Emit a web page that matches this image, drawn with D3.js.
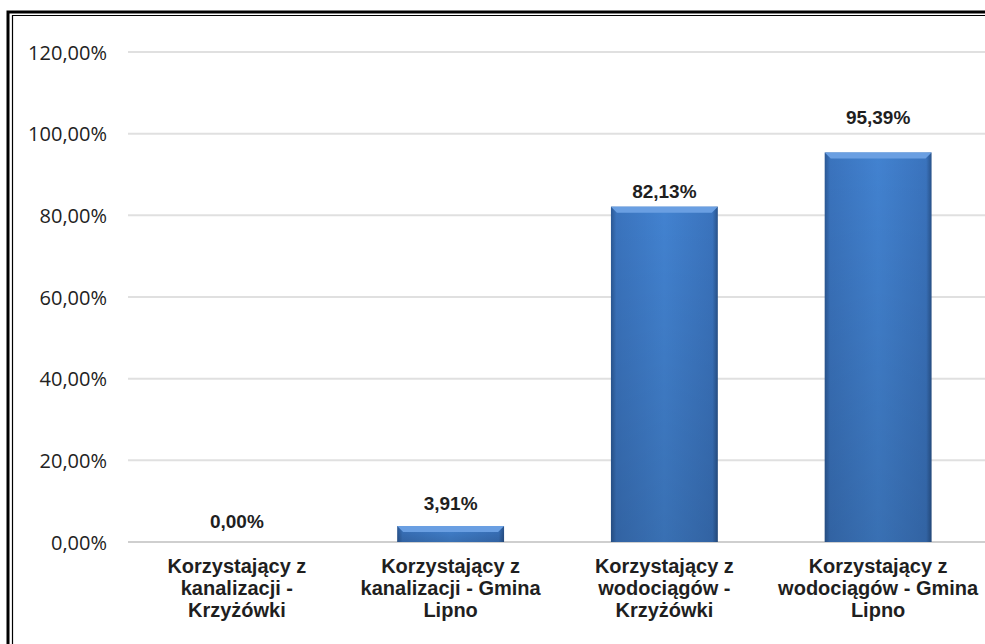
<!DOCTYPE html>
<html>
<head>
<meta charset="utf-8">
<script src="https://cdn.jsdelivr.net/npm/d3@7"></script>
<style>
  body { margin: 0; background: #fff; }
  svg { display: block; }
</style>
</head>
<body>
<div id="chart"></div>
<script>
// chart data
var categories = [
  ["Korzystający z", "kanalizacji -", "Krzyżówki"],
  ["Korzystający z", "kanalizacji - Gmina", "Lipno"],
  ["Korzystający z", "wodociągów -", "Krzyżówki"],
  ["Korzystający z", "wodociągów - Gmina", "Lipno"]
]
var values = [0.00, 3.91, 82.13, 95.39]
var yTicks = [0, 20, 40, 60, 80, 100, 120]

var W = 985, H = 644
var narrow = "'Liberation Sans Narrow', 'Arial Narrow', 'Liberation Sans', Arial, sans-serif"

var svg = d3.select("#chart").append("svg")
    .attr("width", W)
    .attr("height", H)

// double frame (cut off at right / bottom like the screenshot)
svg.append("path")
    .attr("d", "M8,660 L8,12 L1000,12")
    .attr("fill", "none").attr("stroke", "#000").attr("stroke-width", 3)
svg.append("path")
    .attr("d", "M12.5,660 L12.5,15.5 L1000,15.5")
    .attr("fill", "none").attr("stroke", "#000").attr("stroke-width", 1.2)

var defs = svg.append("defs")
var grad = defs.append("linearGradient").attr("id", "barGrad")
    .attr("x1", "0%").attr("x2", "100%").attr("y1", "0%").attr("y2", "0%")
grad.append("stop").attr("offset", "0%").attr("stop-color", "#2b5894")
grad.append("stop").attr("offset", "5%").attr("stop-color", "#3a73bd")
grad.append("stop").attr("offset", "50%").attr("stop-color", "#4282d0")
grad.append("stop").attr("offset", "95%").attr("stop-color", "#3a73bd")
grad.append("stop").attr("offset", "100%").attr("stop-color", "#28528a")

var vgrad = defs.append("linearGradient").attr("id", "barShade")
    .attr("x1", "0%").attr("x2", "0%").attr("y1", "0%").attr("y2", "100%")
vgrad.append("stop").attr("offset", "0%").attr("stop-color", "#000").attr("stop-opacity", 0)
vgrad.append("stop").attr("offset", "100%").attr("stop-color", "#000").attr("stop-opacity", 0.14)

var x = d3.scaleBand()
    .domain(d3.range(values.length))
    .range([130, 985])
    .paddingInner(0.5)
    .paddingOuter(0.25)

var y = d3.scaleLinear()
    .domain([0, 120])
    .range([542, 52])

// gridlines
svg.append("g")
    .selectAll("line")
    .data(yTicks)
    .enter().append("line")
    .attr("x1", 128).attr("x2", 985)
    .attr("y1", function(d) { return y(d) })
    .attr("y2", function(d) { return y(d) })
    .attr("stroke", function(d) { return d === 0 ? "#cfcfcf" : "#e0e0e0" })
    .attr("stroke-width", 2)

var fmt = function(v) { return v.toFixed(2).replace(".", ",") + "%" }

// y axis labels
var yAxis = d3.axisLeft(y).tickValues(yTicks).tickSize(0).tickPadding(0)
    .tickFormat(fmt)
var ya = svg.append("g").attr("transform", "translate(107,0)").call(yAxis)
ya.select(".domain").remove()
ya.selectAll("text")
    .attr("font-family", "'Open Sans', 'DejaVu Sans', sans-serif")
    .attr("font-size", 20)
    .attr("fill", "#222")
    .attr("dy", "0.35em")

// bars (keep original index for the band scale)
var barData = values.map(function(v, i) { return { v: v, i: i } })
    .filter(function(d) { return d.v > 0 })

var bars = svg.append("g").selectAll("g.bar")
    .data(barData)
    .enter().append("g").attr("class", "bar")

bars.append("rect")
    .attr("x", function(d) { return x(d.i) })
    .attr("y", function(d) { return y(d.v) })
    .attr("width", x.bandwidth())
    .attr("height", function(d) { return y(0) - y(d.v) })
    .attr("fill", "url(#barGrad)")

bars.append("rect")
    .attr("x", function(d) { return x(d.i) })
    .attr("y", function(d) { return y(d.v) })
    .attr("width", x.bandwidth())
    .attr("height", function(d) { return y(0) - y(d.v) })
    .attr("fill", "url(#barShade)")

// bevel highlight at top
bars.append("path")
    .attr("d", function(d) {
        var x0 = x(d.i), x1 = x(d.i) + x.bandwidth(), t = y(d.v)
        var b = Math.min(6, (y(0) - t) / 2)
        return "M" + x0 + "," + t + "L" + x1 + "," + t + "L" + (x1 - b) + "," + (t + b) +
               "L" + (x0 + b) + "," + (t + b) + "Z"
    })
    .attr("fill", "#6a9fe2")

// data labels
var lift = [14, 16, 9, 28]
svg.append("g").selectAll("text")
    .data(values)
    .enter().append("text")
    .attr("x", function(d, i) { return x(i) + x.bandwidth() / 2 })
    .attr("y", function(d, i) { return y(d) - lift[i] })
    .attr("text-anchor", "middle")
    .attr("font-family", narrow)
    .attr("font-weight", "bold")
    .attr("font-size", 19)
    .attr("fill", "#1f1f1f")
    .text(fmt)

// category labels
var cat = svg.append("g").selectAll("text")
    .data(categories)
    .enter().append("text")
    .attr("x", function(d, i) { return x(i) + x.bandwidth() / 2 })
    .attr("y", 573)
    .attr("text-anchor", "middle")
    .attr("font-family", narrow)
    .attr("font-weight", "bold")
    .attr("font-size", 20)
    .attr("fill", "#1f1f1f")

cat.selectAll("tspan")
    .data(function(d) { return d })
    .enter().append("tspan")
    .attr("x", function() { return d3.select(this.parentNode).attr("x") })
    .attr("dy", function(d, i) { return i === 0 ? 0 : 22 })
    .text(function(d) { return d })
</script>
</body>
</html>
